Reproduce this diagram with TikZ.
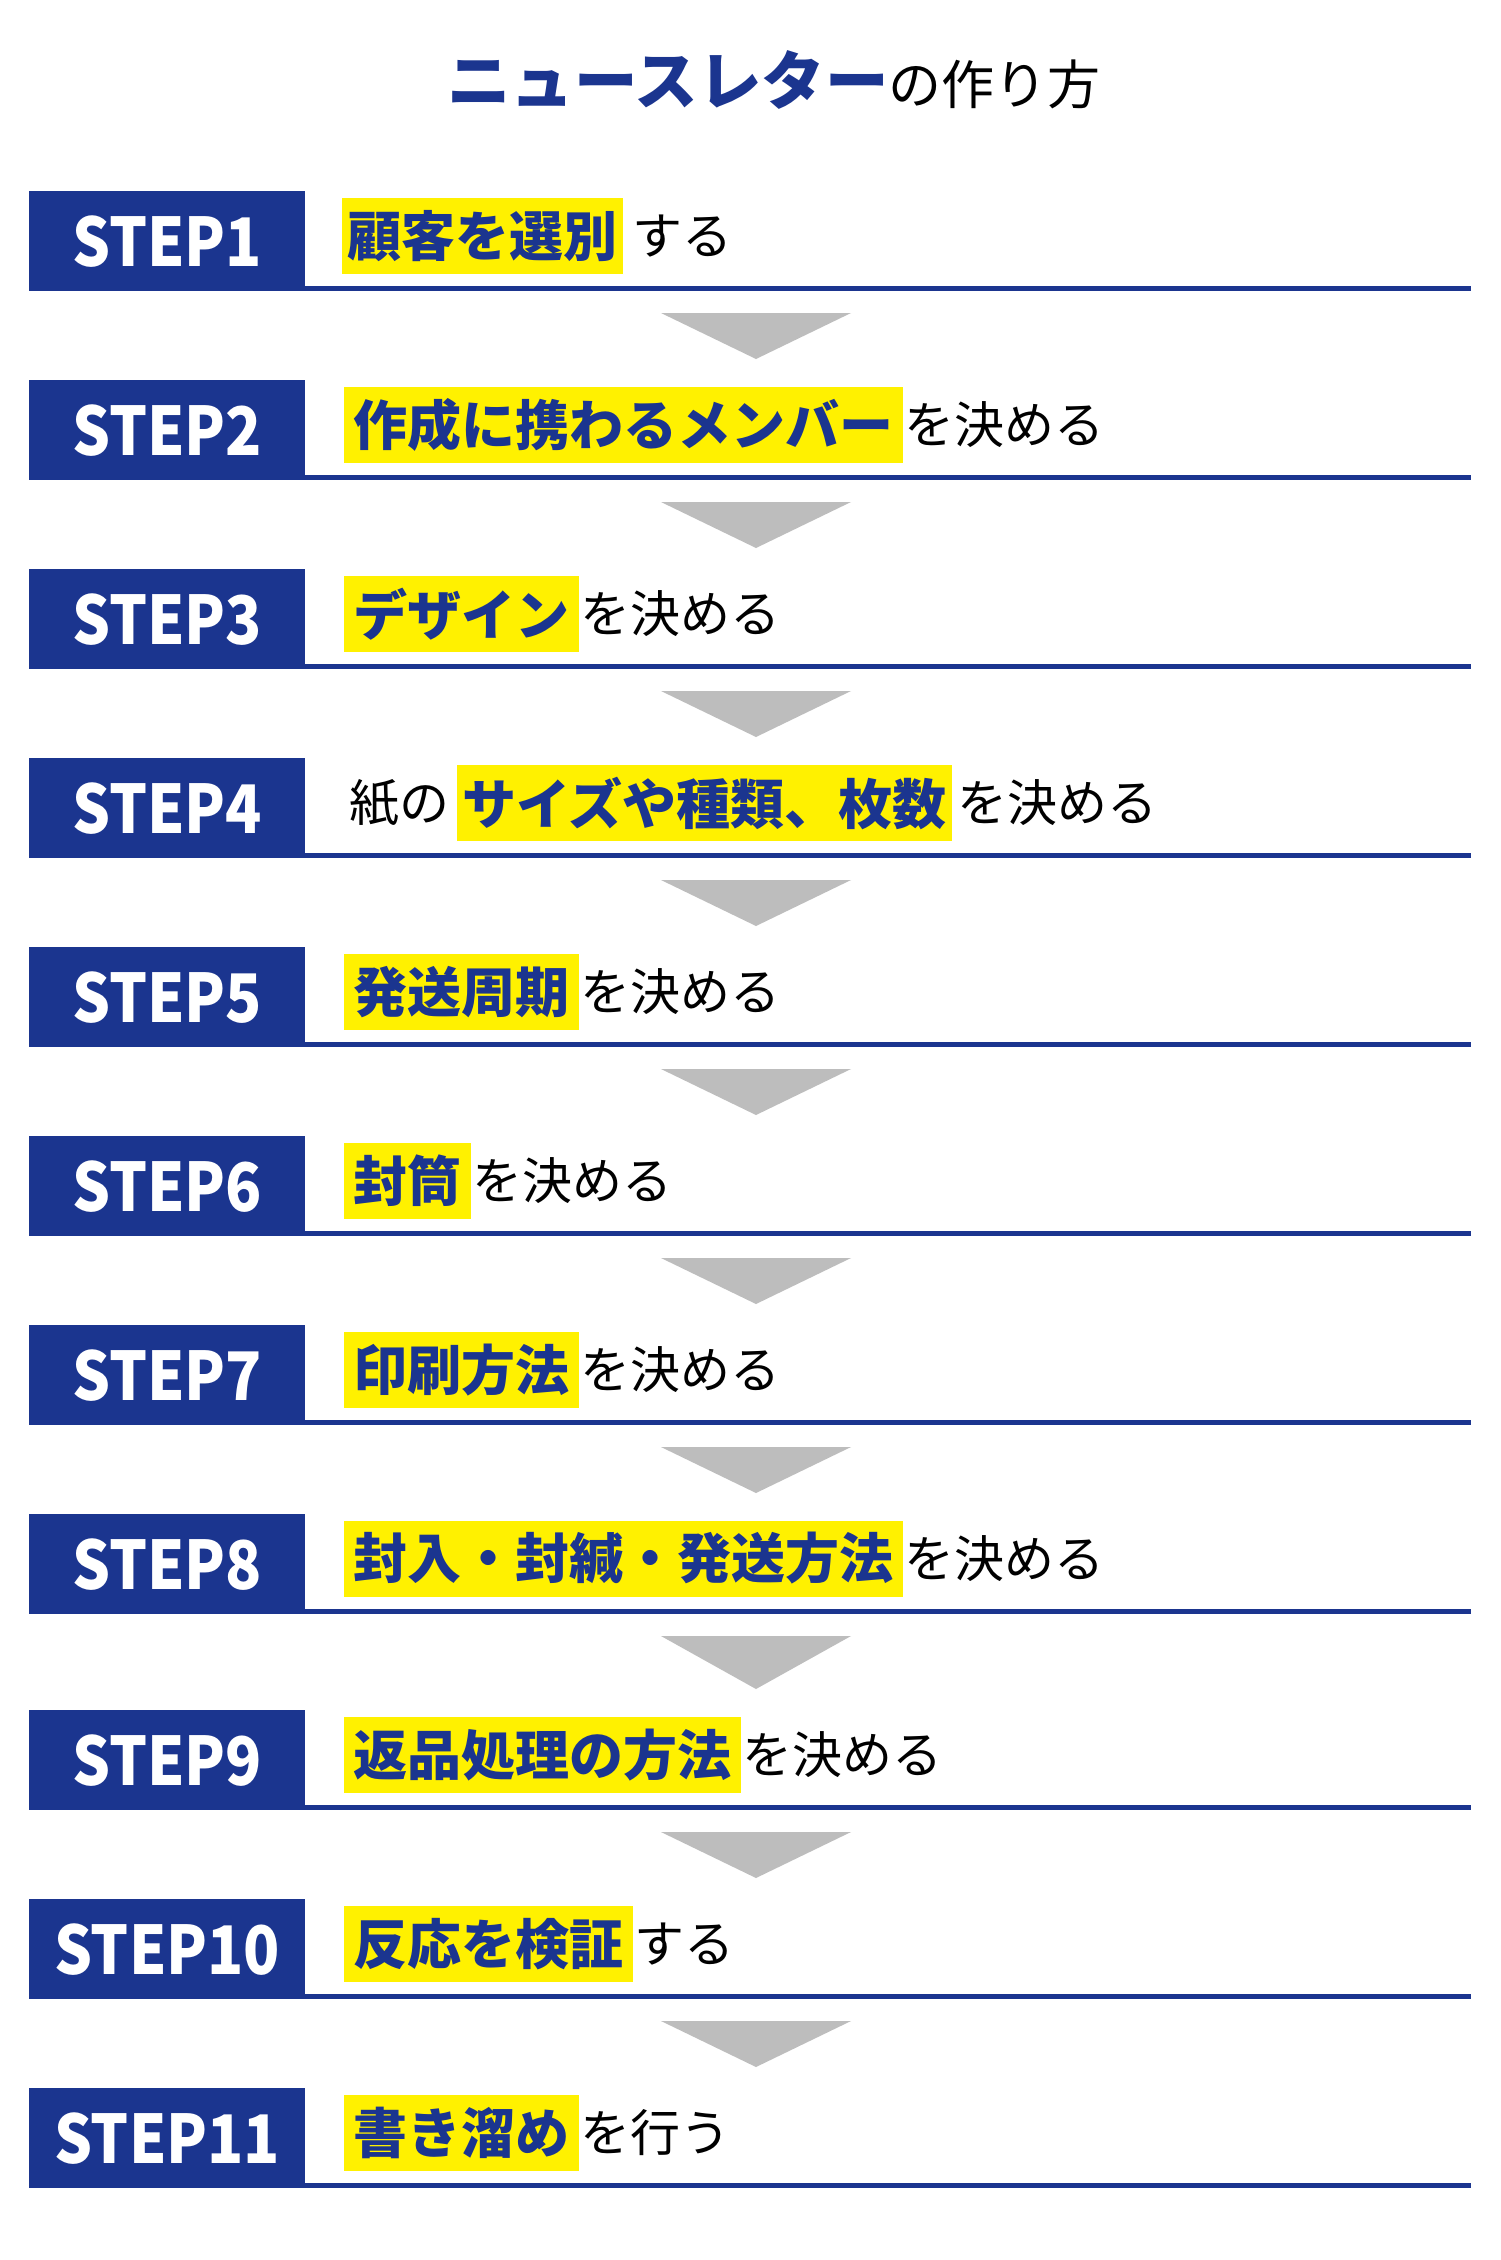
\documentclass[tikz,border=0pt]{standalone}
\usepackage{fontspec}
\setmainfont{Noto Sans CJK JP}
\definecolor{navy}{RGB}{27,53,143}
\definecolor{hl}{RGB}{255,241,0}
\definecolor{tri}{RGB}{189,189,189}
\tikzset{
  stepbox/.style={fill=navy, draw=none, inner sep=0pt, minimum width=276pt, minimum height=100pt, anchor=north west},
  steplabel/.style={text=white, font=\fontsize{67}{70}\selectfont\bfseries, inner sep=0pt},
  hlbox/.style={fill=hl, text=navy, font=\fontsize{54}{60}\selectfont\bfseries, inner xsep=9.5pt, inner ysep=0pt, minimum height=76pt, anchor=west},
  plain/.style={text=black, font=\fontsize{50}{56}\selectfont, inner sep=0pt, anchor=west},
  uline/.style={fill=navy},
  arrowtri/.style={fill=tri},
}
\newcommand\mystepbox[3]{% id, top, label
  \node[stepbox] (b#1) at (29,#2) {};
  \node[steplabel] (l#1) at (b#1.center) {\scalebox{0.89}[1]{#3}};
  \fill[uline] (b#1.south east) rectangle ++(1166,-5);
}
\newcommand\mytri[2]{% bottom of upper box, top of lower box
  \fill[arrowtri] (661,#1+22) -- (851,#1+22) -- (756,#2-21) -- cycle;
}
\begin{document}
\begin{tikzpicture}[x=1pt,y=-1pt]
\useasboundingbox[fill=white] (0,0) rectangle (1500,2260);
\node[anchor=west, inner sep=0pt] (title) at (447,80) {\textcolor{navy}{\fontsize{63.5}{70}\selectfont\bfseries ニュースレター}{\fontsize{53}{60}\selectfont の作り方}};

% STEP1
\mystepbox{1}{191}{STEP1}
\node[hlbox, inner xsep=5.5pt] (h1) at (342,236) {顧客を選別};
\node[plain] (t1) at ([xshift=9pt]h1.east) {する};
\mytri{291}{380}
% STEP2
\mystepbox{2}{380}{STEP2}
\node[hlbox] (h2) at (344,425) {作成に携わるメンバー};
\node[plain] (t2) at ([xshift=1pt]h2.east) {を決める};
\mytri{480}{569}
% STEP3
\mystepbox{3}{569}{STEP3}
\node[hlbox] (h3) at (344,614) {デザイン};
\node[plain] (t3) at ([xshift=1pt]h3.east) {を決める};
\mytri{669}{758}
% STEP4
\mystepbox{4}{758}{STEP4}
\node[plain] (p4) at (349,803) {紙の};
\node[hlbox, inner xsep=5pt] (h4) at (457,803) {サイズや種類、枚数};
\node[plain] (t4) at ([xshift=6pt]h4.east) {を決める};
\mytri{858}{947}
% STEP5
\mystepbox{5}{947}{STEP5}
\node[hlbox] (h5) at (344,992) {発送周期};
\node[plain] (t5) at ([xshift=1pt]h5.east) {を決める};
\mytri{1047}{1136}
% STEP6
\mystepbox{6}{1136}{STEP6}
\node[hlbox] (h6) at (344,1181) {封筒};
\node[plain] (t6) at ([xshift=1pt]h6.east) {を決める};
\mytri{1236}{1325}
% STEP7
\mystepbox{7}{1325}{STEP7}
\node[hlbox] (h7) at (344,1370) {印刷方法};
\node[plain] (t7) at ([xshift=1pt]h7.east) {を決める};
\mytri{1425}{1514}
% STEP8
\mystepbox{8}{1514}{STEP8}
\node[hlbox] (h8) at (344,1559) {封入・封緘・発送方法};
\node[plain] (t8) at ([xshift=1pt]h8.east) {を決める};
\mytri{1614}{1710}
% STEP9
\mystepbox{9}{1710}{STEP9}
\node[hlbox] (h9) at (344,1755) {返品処理の方法};
\node[plain] (t9) at ([xshift=1pt]h9.east) {を決める};
\mytri{1810}{1899}
% STEP10
\mystepbox{10}{1899}{STEP10}
\node[hlbox] (h10) at (344,1944) {反応を検証};
\node[plain] (t10) at ([xshift=1pt]h10.east) {する};
\mytri{1999}{2088}
% STEP11
\mystepbox{11}{2088}{STEP11}
\node[hlbox] (h11) at (344,2133) {書き溜め};
\node[plain] (t11) at ([xshift=1pt]h11.east) {を行う};
\end{tikzpicture}
\end{document}
